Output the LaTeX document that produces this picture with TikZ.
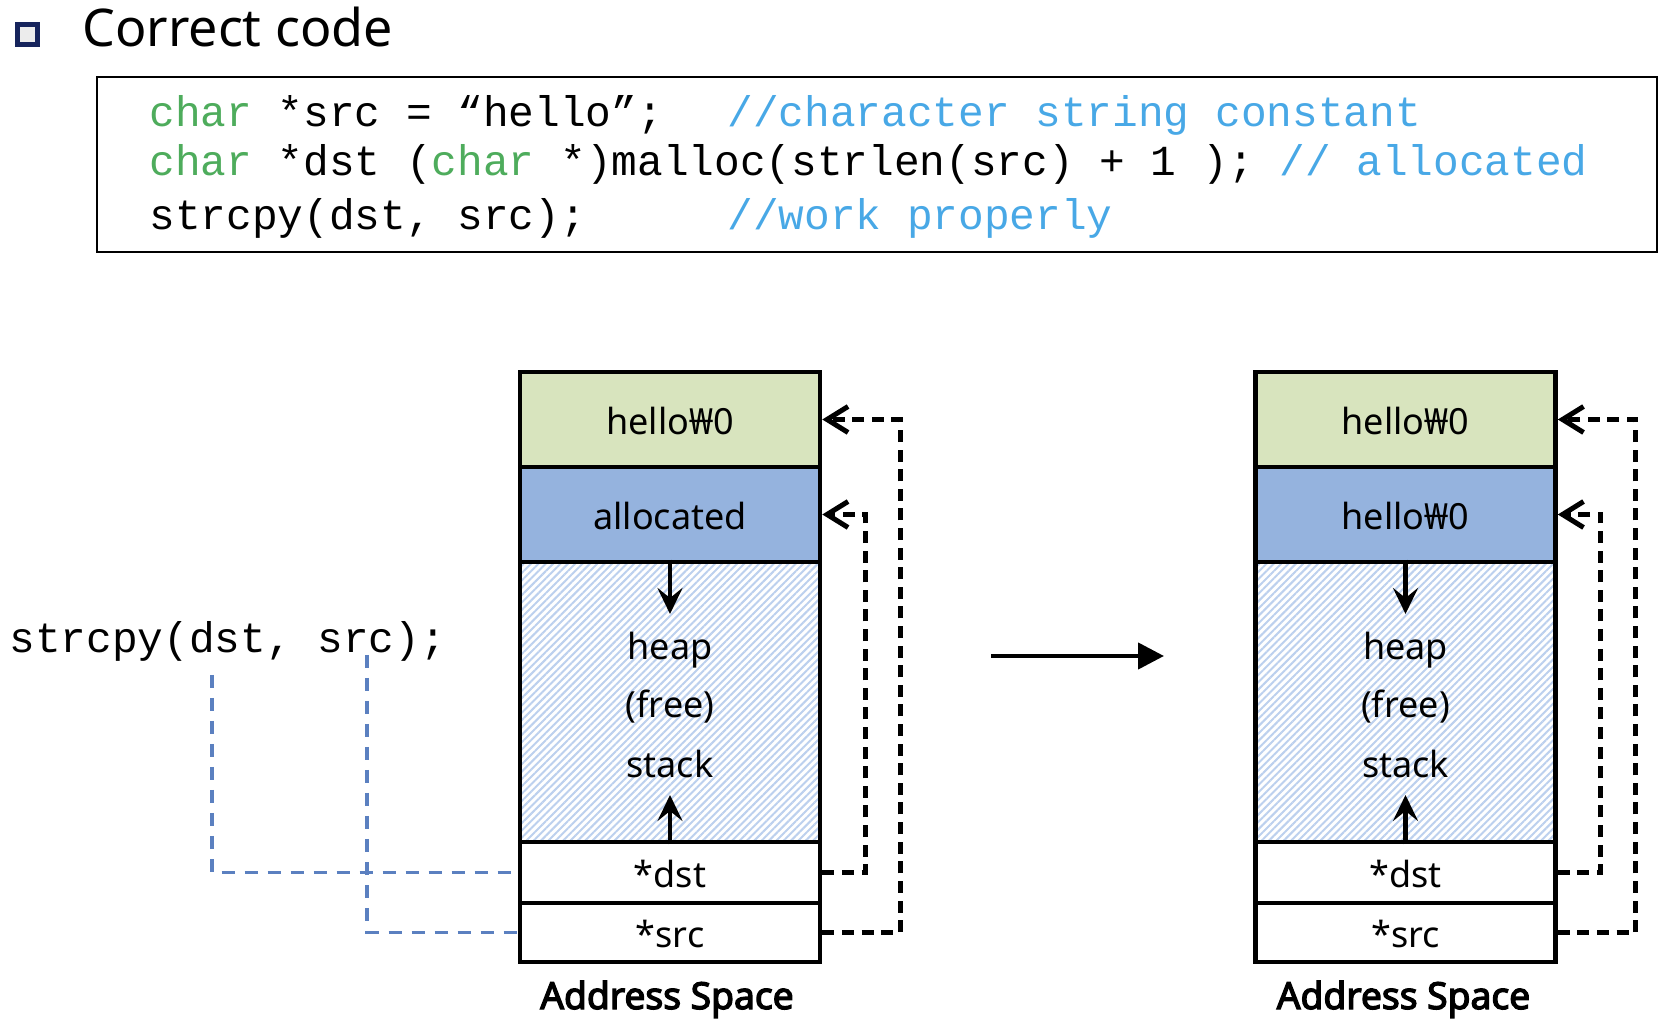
\documentclass[tikz,border=0pt]{standalone}
\usepackage{fontspec}
\setmainfont{Noto Sans}
\newfontfamily\codefont{Liberation Mono}
\newfontfamily\capfont{Noto Sans}[FakeBold=3.5]
\usetikzlibrary{arrows.meta,patterns.meta}
\definecolor{kwgreen}{RGB}{78,172,92}
\definecolor{cmtblue}{RGB}{72,168,230}
\definecolor{strgreen}{RGB}{216,228,190}
\definecolor{allocblue}{RGB}{149,179,222}
\definecolor{hatchblue}{RGB}{188,208,238}
\definecolor{linkblue}{RGB}{91,128,192}
\definecolor{navy}{RGB}{22,36,92}
\tikzset{
  seg/.style={draw=black, line width=2.3pt, minimum width=150pt, inner sep=0pt, outer sep=1.15pt},
  heapseg/.style={seg, preaction={fill=white}, pattern={Lines[angle=45,distance=2.6pt,line width=1pt]}, pattern color=hatchblue},
  lbl/.style={anchor=base, inner sep=0pt, font=\fontsize{18pt}{21pt}\selectfont},
  caption/.style={anchor=base, inner sep=0pt, font=\capfont\fontsize{18.6pt}{22pt}\selectfont},
  codetxt/.style={anchor=base west, inner sep=0pt, font=\codefont\fontsize{21.4pt}{25pt}\selectfont},
  ptr/.style={draw=black, line width=2.5pt, dash pattern=on 6pt off 3.8pt, -{Straight Barb[length=10.5pt,width=13pt]}},
  link/.style={draw=linkblue, line width=1.8pt, dash pattern=on 6.5pt off 5pt},
  growarrow/.style={draw=black, line width=2.2pt, -{Stealth[length=13pt,width=12.5pt,inset=5pt]}},
  bigarrow/.style={draw=black, line width=2.2pt, -{Triangle[length=13pt,width=13pt]}}
}
\begin{document}
\begin{tikzpicture}[x=0.5pt,y=-0.5pt]
\useasboundingbox (0,0) rectangle (1676,1036);

% title
\node[draw=navy, line width=2.5pt, fill=gray!15, minimum size=10pt, inner sep=0pt] (bullet) at (27.5,34.5) {};
\node[anchor=base west, inner sep=0pt, font=\fontsize{26pt}{30pt}\selectfont] (title) at (82,47) {Correct code};

% code box
\node[draw=black, line width=1.3pt, minimum width=780pt, minimum height=87.5pt, inner sep=0pt] (code) at (877,164.5) {};
\node[codetxt] (l1) at (149,127) {\textcolor{kwgreen}{char} *src = “hello”;};
\node[codetxt, text=cmtblue] (c1) at (727,127) {//character string constant};
\node[codetxt] (l2) at (149,176) {\textcolor{kwgreen}{char} *dst (\textcolor{kwgreen}{char} *)malloc(strlen(src) + 1 ); \textcolor{cmtblue}{// allocated}};
\node[codetxt] (l3) at (149,230) {strcpy(dst, src);};
\node[codetxt, text=cmtblue] (c3) at (727,230) {//work properly};

% call on the left
\node[codetxt] (call) at (9,653) {strcpy(dst, src);};
\coordinate (dtop) at (212,675);
\coordinate (stop) at (367,655);

% ---------- left address space ----------
\node[seg, fill=strgreen, minimum height=47.5pt] (g1) at (670,419.5) {};
\node[seg, fill=allocblue, minimum height=47.5pt] (a1) at (670,514.5) {};
\node[heapseg, minimum height=140pt] (h1) at (670,702) {};
\node[seg, fill=white, minimum height=30.5pt] (d1) at (670,872.5) {};
\node[seg, fill=white, minimum height=29.5pt] (s1) at (670,932.5) {};
\node[lbl] (g1t) at (670,435) {hello₩0};
\node[lbl] (a1t) at (670,530) {allocated};
\node[lbl] (h1a) at (670,660) {heap};
\node[lbl] (h1b) at (670,718) {(free)};
\node[lbl] (h1c) at (670,777) {stack};
\node[lbl] (d1t) at (670,887) {*dst};
\node[lbl] (s1t) at (670,947) {*src};
\node[caption] (cap1) at (667,1009) {Address Space};
\coordinate (hd1) at (670,614);
\coordinate (su1) at (670,795);
\draw[growarrow] (h1.north) -- (hd1);
\draw[growarrow] (h1.south) -- (su1);
\draw[ptr] (d1.east) -- ++(43,0) |- (a1.east);
\draw[ptr] (s1.east) -- ++(78,0) |- (g1.east);
\draw[link] (dtop) |- (d1.west);
\draw[link] (stop) |- (s1.west);

% transition arrow
\coordinate (ma) at (991,656);
\coordinate (mb) at (1164,656);
\draw[bigarrow] (ma) -- (mb);

% ---------- right address space ----------
\node[seg, fill=strgreen, minimum height=47.5pt] (g2) at (1405.5,419.5) {};
\node[seg, fill=allocblue, minimum height=47.5pt] (a2) at (1405.5,514.5) {};
\node[heapseg, minimum height=140pt] (h2) at (1405.5,702) {};
\node[seg, fill=white, minimum height=30.5pt] (d2) at (1405.5,872.5) {};
\node[seg, fill=white, minimum height=29.5pt] (s2) at (1405.5,932.5) {};
\node[lbl] (g2t) at (1405.5,435) {hello₩0};
\node[lbl] (a2t) at (1405.5,530) {hello₩0};
\node[lbl] (h2a) at (1405.5,660) {heap};
\node[lbl] (h2b) at (1405.5,718) {(free)};
\node[lbl] (h2c) at (1405.5,777) {stack};
\node[lbl] (d2t) at (1405.5,887) {*dst};
\node[lbl] (s2t) at (1405.5,947) {*src};
\node[caption] (cap2) at (1403.5,1009) {Address Space};
\coordinate (hd2) at (1405.5,614);
\coordinate (su2) at (1405.5,795);
\draw[growarrow] (h2.north) -- (hd2);
\draw[growarrow] (h2.south) -- (su2);
\draw[ptr] (d2.east) -- ++(43,0) |- (a2.east);
\draw[ptr] (s2.east) -- ++(78,0) |- (g2.east);
\end{tikzpicture}
\end{document}
